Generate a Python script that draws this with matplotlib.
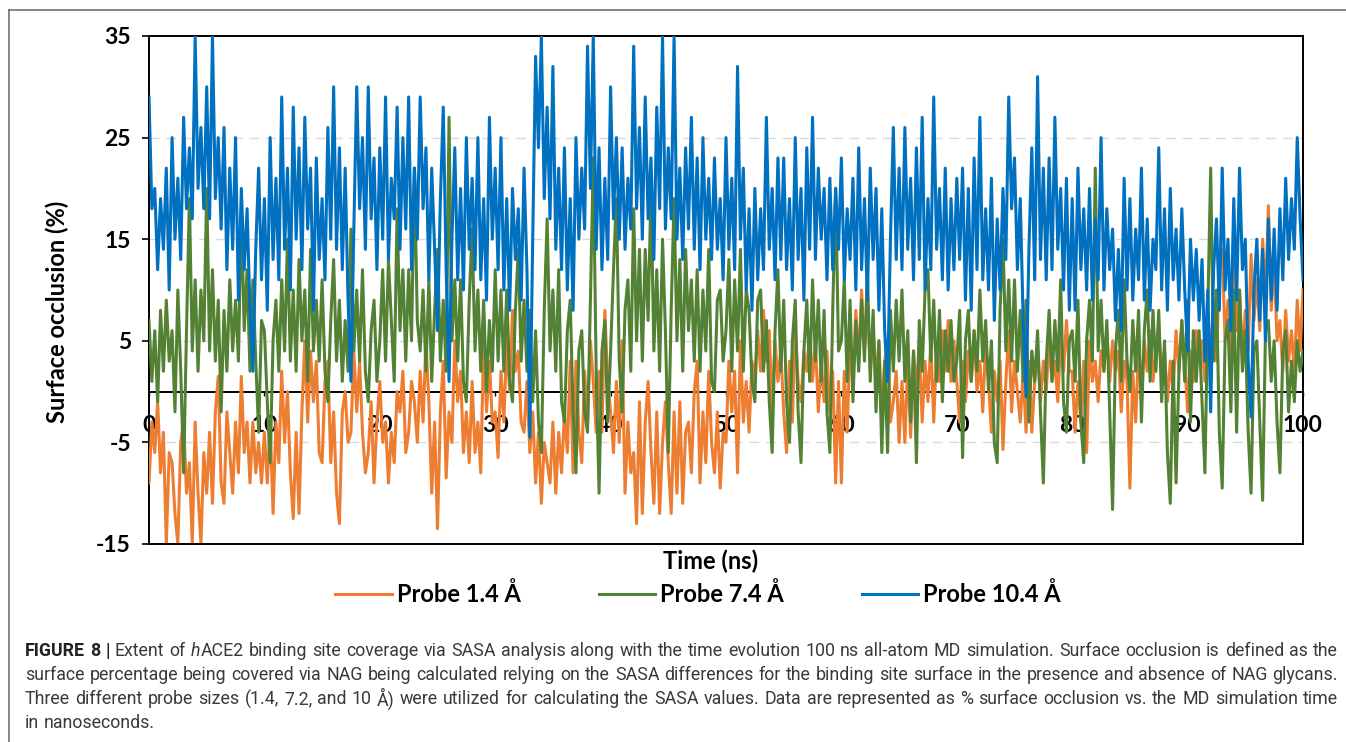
import numpy as np
import matplotlib.pyplot as plt
from matplotlib.lines import Line2D

plt.rcParams['font.family'] = ['Lato', 'DejaVu Sans']
plt.rcParams['axes.unicode_minus'] = False

# surface occlusion (%), one value every 0.25 ns from 0 to 100 ns
probe_14 = [
    -9, -3, -6, -1, -8, -4, -15, -6, -7, -12,
    -15, -5, -3, -10, -7, -15, -3, -10, -15, -6,
    -10, -4, -11, -2, 1.5, -9, -11, -2, -6, -10,
    -3, -8, 1.5, -6, -3, -9, -3, -8, -5, -9,
    -4, -9, -3, -12, -3, -7, 2, -5, 0, -8,
    -12.5, -4, -12, -2, 5, -3, 4, -1, 3, -6,
    -7, 1, 3, -7, -2, -10, -13, -2, 0, -5,
    -4, 4, -2, 3, -4, -8, -6, -1, -9, -3,
    1, -5, -3, -9, -4, -7, 0, -2, 2, -6,
    -4, 1, -1, -5, 2, -3, 5, -1, -10, -3,
    -13.5, -2, 3, -8.5, -2, -5, 5, -1, 2, -6,
    -2, -7, 1, -6, -3, -8, 5, -2, 3, -3,
    -2, -6.5, 2, -3, 5, 0, 8, 2, 4, -3,
    -4, 1, -6, -2, -9, -4, -11, -5, -7, -9,
    -3, -10, -4, -8, -2, -6, 3, -8, 3, -4,
    -7, 2, -3, 5, 1, -4, 2, -4, 8, 1,
    -2, -6, 1, -5, 5, -10, -3, -8, -6, -13,
    -1, -12, -3, 1, -6, -11, -2, -12, -5, -1,
    -7, -12, -2, -10, -1, -11, -4, -3, -8, 0,
    3, -9, -2, -7, 2, -5, -8, -2, -9.5, -4,
    -5, 3, -2, 2, -8, 5, -3, 1, -4, 3,
    1, 6, 2, 8, 3, 6, -2, 5, 1, 4,
    -2, -6, 3, -3, 6, 1, -1, 4, 2, 6,
    1, 5, -2, 3, -1, 4, -2, 2, -9, 1,
    -9, 2, -4, 5, 1, 8, 3, 10, 4, 9,
    2, 6, 1, 5, -3, 3, 5, -3, -1, 2,
    -5, 1, -5, 3, -4.5, 4, 0, 5, -3, 3,
    -1, 5, -3, 4, 1, 6, 2, 7, 1, 5,
    1, -3, 3, -1, 4, 1, 6, 0, 3, -2,
    5, 1, -4, 2, -1, 3, -5.7, 1, 6, -2,
    3, 0, -3, 2, -4, 3, -4, 1, 4, -1,
    3, 0, 5, 1, 3, -1, 5, 2, 7, 2,
    2, -4, 1, -3, 3, -6, 5, 1, 3, -1,
    4, 2, 6, 1, 5, 2, 4, -2, 3, 1,
    -9.5, 2, -3, 4, 0, 5, 2, 6, 1, 4,
    6, 2, 4, -1, 3, 0, 6, 2, 7, 3,
    -2, 4, 1, 6, 3, 5, 1, 7, 4, 9,
    3, 12, 14, 5, 9, 4, 13, 6, 10, 3,
    8, 4, 13.5, 7, 11, 6, 15, 9, 18.3, 8,
    13, 5, 7, 2, 8, 3, 6, 2, 9, 4,
    10,
]

probe_74 = [
    7, 1, 6, -1, 8, 2, 9, 3, 6, -2,
    10, 2, -8, 6, 19, 4, 11, 2, 10, 5,
    20, 4, 12, 3, 9, -2, 8, 2, 11, 4,
    9, 3, 18, 6, 12, 2, 11, 3, -4, 7,
    6, -1, -7, 5, 9, 2, 11, 4, 15, 3,
    10, 2, 13, 5, 10, 1, 14, 4, 9, 3,
    11, 2, -1, 7, 13, 3, 9, 1, 7, 2,
    16, 4, 10, 3, 12, 2, -1, 6, 9, 1,
    5, 12, 3, 13, 7, 1, 18, 6, 12, 3,
    12, 5, 22, 7, 4, 10, 2, 11, 1, 8,
    14, 3, 9, 2, 27, 5, 11, 3, 11, 1,
    -1, 9, 16, 4, 10, 2, 9, 0, 7, 2,
    12, 3, 10, 2, 10, 1, -1, 8, 14, 3,
    9, 2, 8, -1, 6, -3, -6, 8, 17, 4,
    10, 2, 12, -1, -3, 6, 9, -2, -8, 4,
    6, -2, -4, 9, 23, 2, -10, 4, 7, -3,
    4, 12, 19, 3, -2, 8, 11, 2, 18, 5,
    14, 3, 14, 7, 20, 4, 12, 2, 15, 6,
    -6, 8, 19, 5, 13, 2, 14, 6, 11, 3,
    12, 2, 10, 4, 14, 1, 0, 9, 10, 3,
    6, 13, 2, 11, 4, 14, 2, 10, 8, 1,
    -1, 9, 10, 2, 7, -1, -6, 6, 12, 2,
    9, -1, -5, 5, 9, -2, -7, 4, 9, 1,
    11, 3, 9, 1, 8, -2, -6, 8, 20, 4,
    5, 11, 1, 9, -1, 7, 2, 9, 3, 12,
    1, 8, -2, 5, -6, 3, -6, 8, 2, 9,
    3, 10, 1, 6, -3, 4, -7, 7, 2, 10,
    12, 3, 9, 1, 8, -1, 6, 2, 7, 1,
    3, 8, -6.5, 5, 8, 1, 6, 2, 10, 3,
    7, 0, 5, -5, -7, 8, 15, 4, 11, 3,
    11, 2, 8, 1, 9, -3, 4, 1, 6, -2,
    -9, 3, 8, 1, 7, 2, 11, -1, -4, 5,
    6, 1, 9, -3, -7, 5, 9, 3, 22, 4,
    9, 2, 7, -2, -11.6, 4, 8, 1, 11, 3,
    0, 7, 2, 8, -3, 6, 10, 1, 8, 2,
    8, -1, 5, -6, -11, 3, -9, 2, 7, 1,
    9, -3, 6, 1, 6, -1, -8, 8, 22, 3,
    10, -4, -9.5, 5, 7, -2, 10, -4, 10, 2,
    6, -4, -10, 4, 5, -3, -10.7, 6, 7, 1,
    5, -3, -8, 4, 6, -2, 3, -1, 5, 2,
    4,
]

probe_104 = [
    29, 18, 20, 12, 19, 14, 22, 10, 25, 15,
    21, 13, 27, 18, 24, 17, 35, 20, 26, 18,
    30, 17, 35, 19, 25, 16, 26, 12, 22, 14,
    25, 9, 20, 12, 18, 8, 2, 14, 22, 11,
    19, 8, 25, 13, 21, 11, 29, 14, 22, 10,
    28, 15, 24, 12, 27, 16, 22, 8, 23, 13,
    19, 11, 26, 15, 30, 14, 24, 12, 22, 9,
    1, 16, 30, 18, 25, 14, 30, 17, 23, 12,
    24, 15, 29, 13, 21, 17, 28, 14, 25, 16,
    29, 12, 22, 15, 29, 18, 24, 11, 22, 14,
    6, 19, 28, 12, 1, 15, 24, 11, 20, 10,
    25, 14, 21, 12, 25, 11, 19, 9, 27, 15,
    22, 12, 25, 10, 19, 8, 20, 13, 18, 9,
    22, 12, -4.5, 15, 33, 24, 35, 19, 28, 17,
    32, 14, 22, 12, 24, 10, 19, 8, 25, 15,
    22, 16, 34, 20, 35, 14, 24, 12, 21, 13,
    30, 17, 25, 15, 24, 14, 21, 16, 34, 18,
    26, 15, 29, 17, 23, 13, 28, 18, 35, 16,
    24, 17, 35, 15, 22, 13, 24, 16, 27, 14,
    23, 12, 25, 15, 21, 13, 23, 14, 19, 11,
    25, 14, 21, 12, 32, 15, 22, 10, 18, 8,
    20, 11, 18, 12, 27, 14, 20, 11, 23, 13,
    23, 12, 19, 10, 25, 13, 20, 9, 24, 14,
    27, 13, 22, 15, 20, 11, 21, 12, 20, 14,
    23, 11, 18, 13, 21, 10, 24, 12, 19, 9,
    22, 13, 20, 8, 18, 6, 1, 15, 26, 13,
    22, 12, 26, 14, 21, 11, 24, 13, 27, 10,
    19, 12, 29, 14, 20, 11, 22, 10, 19, 12,
    21, 13, 22, 9, 20, 8, 23, 12, 27, 11,
    18, 10, 21, 7, 17, 10, 20, 13, 29, 18,
    23, 12, 19, 7, -0.5, 14, 24, 11, 31, 13,
    22, 11, 23, 12, 27, 14, 20, 10, 21, 8,
    19, 8, 22, 12, 18, 10, 20, 9, 17, 11,
    25, 10, 18, 12, 16, 7, 14, 6, 21, 10,
    19, 9, 16, 11, 22, 9, 17, 8, 15, 12,
    24, 10, 18, 8, 20, 11, 16, 9, 18, 10,
    4, 15, 9, 14, 7, 13, 3, 10, -2, 12,
    17, 8, 22, 10, 15, 6, 19, 9, 22, 12,
    15, 3, -2.5, 10, 15, 7, 14, 5, 17, 9,
    16, 8, 18, 11, 21, 13, 19, 14, 25, 17,
    11,
]

series_labels = ['Probe 1.4 Å', 'Probe 7.4 Å', 'Probe 10.4 Å']
series_colors = ['#ED7D31', '#548235', '#0070C0']
y_ticks = [-15, -5, 5, 15, 25, 35]
x_ticks = list(range(0, 101, 10))

caption_lines = [
    "FIGURE 8 | Extent of hACE2 binding site coverage via SASA analysis along with the time evolution 100 ns all-atom MD simulation. Surface occlusion is defined as the",
    "surface percentage being covered via NAG being calculated relying on the SASA differences for the binding site surface in the presence and absence of NAG glycans.",
    "Three different probe sizes (1.4, 7.2, and 10 Å) were utilized for calculating the SASA values. Data are represented as % surface occlusion vs. the MD simulation time",
    "in nanoseconds.",
]

W, H = 1346, 742
fig = plt.figure(figsize=(W / 100, H / 100), dpi=100)
ax = fig.add_axes([149 / W, 1 - 544 / H, (1303 - 149) / W, (544 - 36) / H])

for vals, lab, col in zip([probe_14, probe_74, probe_104], series_labels, series_colors):
    t = np.linspace(0, 100, len(vals))
    ax.plot(t, vals, color=col, lw=2.2, label=lab, zorder=3)

for gy in [-5, 5, 15, 25]:
    ax.axhline(gy, color='#d9d9d9', lw=1.0, ls=(0, (7, 5)), zorder=1)

ax.set_xlim(0, 100)
ax.set_ylim(-15, 35)
ax.set_yticks(y_ticks)
ax.set_xticks(x_ticks)
ax.spines['bottom'].set_position(('data', 0))
for s in ax.spines.values():
    s.set_linewidth(1.4)
    s.set_color('black')
ax.plot([0, 1], [0, 0], transform=ax.transAxes, color='black', lw=1.4,
        clip_on=False, zorder=4)

ax.tick_params(axis='y', direction='out', length=5, width=1.2, pad=8, labelsize=16.5)
ax.tick_params(axis='x', direction='out', length=3, width=1.0, pad=14, labelsize=16.5)
for lab in ax.get_xticklabels() + ax.get_yticklabels():
    lab.set_fontweight('bold')

fig.text(711 / W, 1 - 561 / H, 'Time (ns)', ha='center', va='center',
         fontsize=17, fontweight='bold')
fig.text(57 / W, 1 - 312 / H, 'Surface occlusion (%)', ha='center', va='center',
         rotation=90, fontsize=17, fontweight='bold')

handles = [Line2D([], [], color=c, lw=2.2) for c in series_colors]
fig.legend(handles, series_labels, loc='center', bbox_to_anchor=(698 / W, 1 - 594 / H),
           ncol=3, frameon=False, handlelength=2.4, handletextpad=0.2,
           columnspacing=3.3, prop={'size': 17, 'weight': 'bold'})

# outer panel frame (top and left only)
fig.add_artist(Line2D([9 / W, 1], [1 - 10 / H, 1 - 10 / H], color='#666666', lw=1.1))
fig.add_artist(Line2D([9 / W, 9 / W], [0, 1 - 10 / H], color='#666666', lw=1.1))

# caption, justified like the journal layout
renderer = fig.canvas.get_renderer()
cap_font = ['Roboto', 'DejaVu Sans']
x_left, x_right = 25, 1338


def word_pieces(line, first):
    out = []
    for i, w in enumerate(line.split()):
        if first and i < 3:
            out.append([(w, 'bold', 'normal')])
        elif w == 'hACE2':
            out.append([('h', 'normal', 'italic'), ('ACE2', 'normal', 'normal')])
        else:
            out.append([(w, 'normal', 'normal')])
    return out


def piece_width(txt, weight, style, size):
    t = fig.text(0, 0, txt, fontsize=size, family=cap_font, fontweight=weight,
                 fontstyle=style)
    w = t.get_window_extent(renderer).width
    t.remove()
    return w


def natural_width(line, first, size):
    sp = piece_width('a a', 'normal', 'normal', size) - 2 * piece_width('a', 'normal', 'normal', size)
    words = word_pieces(line, first)
    return sum(piece_width(*p, size) for wd in words for p in wd) + sp * (len(words) - 1)


cap_size = 13.0
while cap_size > 9 and max(natural_width(l, k == 0, cap_size)
                           for k, l in enumerate(caption_lines[:3])) > (x_right - x_left):
    cap_size -= 0.25

space_w = piece_width('a a', 'normal', 'normal', cap_size) - 2 * piece_width('a', 'normal', 'normal', cap_size)
for k, line in enumerate(caption_lines):
    y = 1 - (651 + 24 * k) / H
    words = word_pieces(line, k == 0)
    widths = [[piece_width(*p, cap_size) for p in wd] for wd in words]
    total = sum(sum(w) for w in widths)
    if k < len(caption_lines) - 1:
        gap = (x_right - x_left - total) / (len(words) - 1)
    else:
        gap = space_w
    x = x_left
    for wd, ws in zip(words, widths):
        for (txt, weight, style), pw in zip(wd, ws):
            fig.text(x / W, y, txt, fontsize=cap_size, family=cap_font, fontweight=weight,
                     fontstyle=style, va='center', ha='left',
                     color='#222222' if weight == 'bold' else '#3a3a3a')
            x += pw
        x += gap

fig.savefig('out.png', dpi=100)
